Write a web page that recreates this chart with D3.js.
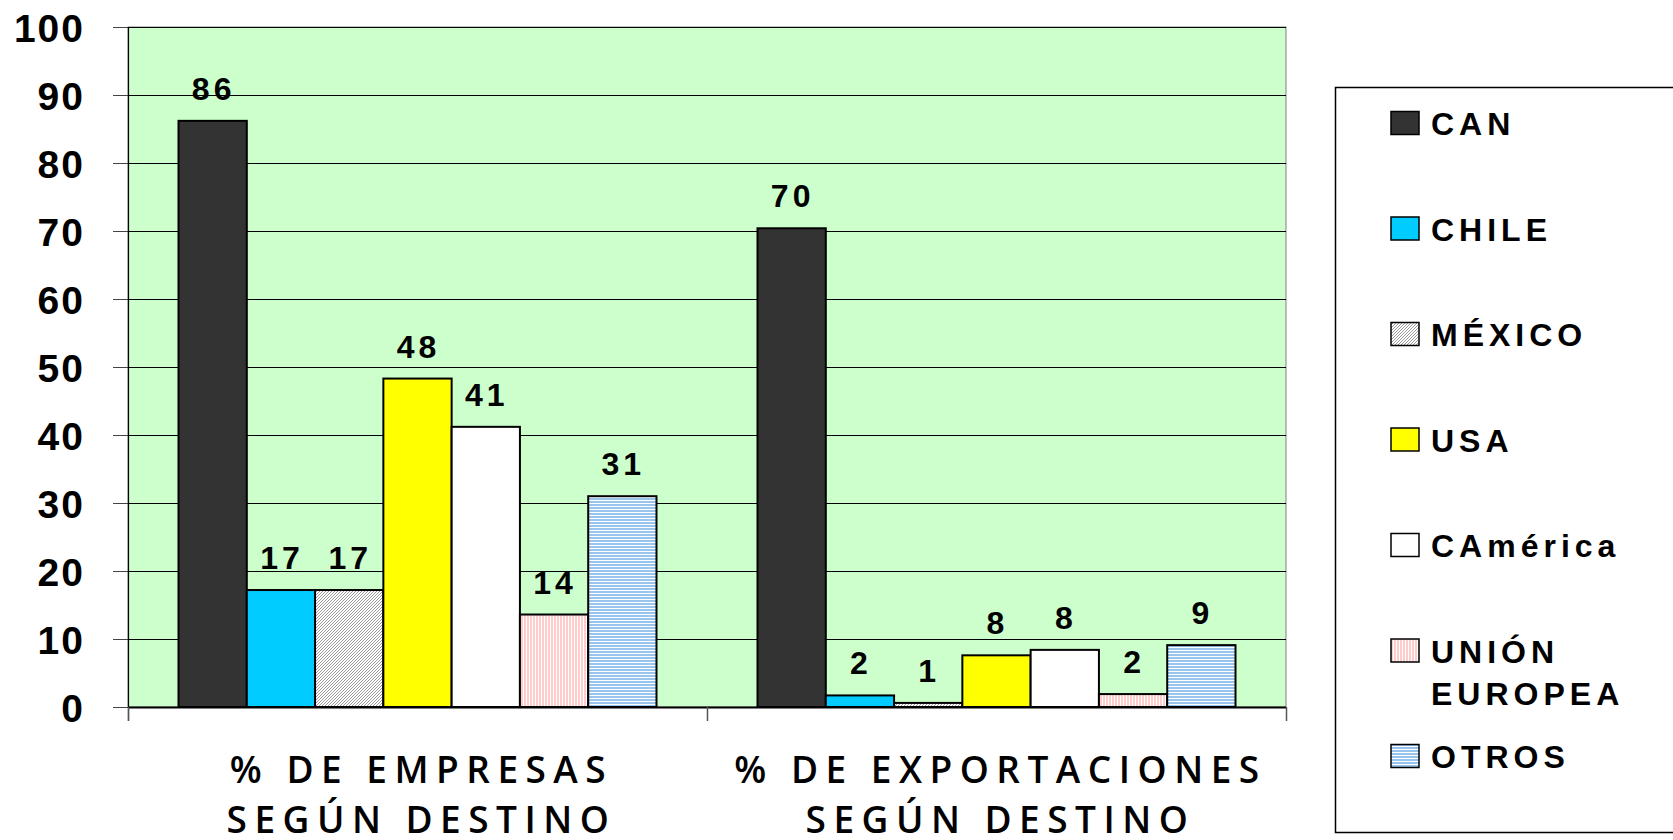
<!DOCTYPE html>
<html>
<head>
<meta charset="utf-8">
<script src="https://cdn.jsdelivr.net/npm/d3@7"></script>
<style>
  body { margin: 0; background: #fff; }
  svg { display: block; }
</style>
</head>
<body>
<div class="chart"></div>
<script>
const groups = ["% DE EMPRESAS|SEGÚN DESTINO", "% DE EXPORTACIONES|SEGÚN DESTINO"];
const series = ["CAN", "CHILE", "MÉXICO", "USA", "CAmérica", "UNIÓN EUROPEA", "OTROS"];
const empresas = [86.2, 17.2, 17.2, 48.3, 41.2, 13.6, 31.0];
const exportaciones = [70.4, 1.7, 0.6, 7.6, 8.4, 1.9, 9.1];
const yTicks = [0, 10, 20, 30, 40, 50, 60, 70, 80, 90, 100];

const width = 1673, height = 840;
const plot = { left: 128, right: 1286, top: 27, bottom: 707 };

const svg = d3.select(".chart").append("svg")
  .attr("width", width)
  .attr("height", height);

// patterns for the hatched series
const defs = svg.append("defs");

const pMex = defs.append("pattern").attr("id", "p-mex")
  .attr("patternUnits", "userSpaceOnUse").attr("width", 3).attr("height", 3);
pMex.append("rect").attr("width", 3).attr("height", 3).attr("fill", "#fff");
pMex.append("path").attr("d", "M-1,1 l2,-2 M0,3 l3,-3 M2,4 l2,-2")
  .attr("stroke", "#9a9a9a").attr("stroke-width", 1);

const pUe = defs.append("pattern").attr("id", "p-ue")
  .attr("patternUnits", "userSpaceOnUse").attr("width", 3).attr("height", 3);
pUe.append("rect").attr("width", 3).attr("height", 3).attr("fill", "#fff");
pUe.append("rect").attr("width", 2).attr("height", 3).attr("fill", "#ffcccc");

const pOtros = defs.append("pattern").attr("id", "p-otros")
  .attr("patternUnits", "userSpaceOnUse").attr("width", 3).attr("height", 3);
pOtros.append("rect").attr("width", 3).attr("height", 3).attr("fill", "#fff");
pOtros.append("rect").attr("width", 3).attr("height", 2).attr("fill", "#99c4ee");

const fills = ["#333333", "#00ccff", "url(#p-mex)", "#ffff00", "#ffffff", "url(#p-ue)", "url(#p-otros)"];
const color = d3.scaleOrdinal().domain(series).range(fills);

const y = d3.scaleLinear().domain([0, 100]).range([plot.bottom, plot.top]);
const x0 = d3.scaleBand().domain(groups).range([plot.left, plot.right]);
const x1 = d3.scaleBand().domain(series)
  .range([50.5, x0.bandwidth() - 50.5]);

// plot area
svg.append("rect")
  .attr("x", plot.left).attr("y", plot.top)
  .attr("width", plot.right - plot.left).attr("height", plot.bottom - plot.top)
  .attr("fill", "#ccffcc").attr("stroke", "#808080").attr("stroke-width", 1);

// gridlines
svg.append("g").selectAll("line")
  .data(yTicks.filter((d) => d > 0))
  .join("line")
  .attr("x1", plot.left).attr("x2", plot.right)
  .attr("y1", (d) => Math.round(y(d)) + 0.5).attr("y2", (d) => Math.round(y(d)) + 0.5)
  .attr("stroke", "#000").attr("stroke-width", 1);

// y axis
const yAxis = svg.append("g")
  .attr("transform", `translate(${plot.left},0)`)
  .call(d3.axisLeft(y).tickValues(yTicks).tickSize(15).tickPadding(30));
yAxis.select(".domain").remove();
yAxis.selectAll(".tick line").attr("stroke", "#444");
yAxis.selectAll(".tick text")
  .attr("font-family", "'Liberation Sans', Arial, sans-serif")
  .attr("font-weight", "bold")
  .attr("font-size", 39)
  .attr("letter-spacing", "2px")
  .attr("fill", "#000")
  .attr("dy", "0.36em")
  .attr("x", -43);

svg.append("line")
  .attr("x1", plot.left + 0.5).attr("x2", plot.left + 0.5)
  .attr("y1", plot.top).attr("y2", plot.bottom + 14)
  .attr("stroke", "#000").attr("stroke-width", 1.2);

// bars
const data = groups.map((g, gi) => ({
  group: g,
  values: series.map((s, si) => ({ s, v: gi === 0 ? empresas[si] : exportaciones[si] })),
}));

const grp = svg.append("g").selectAll("g")
  .data(data)
  .join("g")
  .attr("transform", (d) => `translate(${x0(d.group)},0)`);

grp.selectAll("rect")
  .data((d) => d.values)
  .join("rect")
  .attr("x", (d) => x1(d.s))
  .attr("y", (d) => y(d.v))
  .attr("width", x1.bandwidth())
  .attr("height", (d) => y(0) - y(d.v))
  .attr("fill", (d) => color(d.s))
  .attr("stroke", "#000")
  .attr("stroke-width", 2);

grp.selectAll("text")
  .data((d) => d.values)
  .join("text")
  .attr("x", (d) => x1(d.s) + x1.bandwidth() / 2 + 1)
  .attr("y", (d) => y(d.v) - 21)
  .attr("text-anchor", "middle")
  .attr("font-family", "'Liberation Sans', Arial, sans-serif")
  .attr("font-weight", "bold")
  .attr("font-size", 32)
  .attr("letter-spacing", "4px")
  .text((d) => d3.format(".0f")(d.v));

// x axis
svg.append("line")
  .attr("x1", plot.left).attr("x2", plot.right)
  .attr("y1", plot.bottom + 0.5).attr("y2", plot.bottom + 0.5)
  .attr("stroke", "#000").attr("stroke-width", 2);

svg.append("g").selectAll("line")
  .data([plot.left, x0(groups[1]), plot.right])
  .join("line")
  .attr("x1", (d) => d + 0.5).attr("x2", (d) => d + 0.5)
  .attr("y1", plot.bottom).attr("y2", plot.bottom + 14)
  .attr("stroke", "#555").attr("stroke-width", 1.5);

const catLabel = svg.append("g").selectAll("text")
  .data(groups)
  .join("text")
  .attr("y", 783)
  .attr("text-anchor", "middle")
  .attr("font-family", "'Open Sans', sans-serif")
  .attr("font-weight", 600)
  .attr("font-size", 37)
  .attr("letter-spacing", "7.5px")
  .attr("fill", "#000");
catLabel.selectAll("tspan")
  .data((d) => d.split("|").map((t) => ({ t, x: x0(d) + x0.bandwidth() / 2 + 4 })))
  .join("tspan")
  .attr("x", (d) => d.x)
  .attr("dy", (d, i) => (i === 0 ? 0 : 50))
  .text((d) => d.t);

// legend
svg.append("rect")
  .attr("x", 1335.5).attr("y", 87.5)
  .attr("width", 400).attr("height", 745)
  .attr("fill", "#fff").attr("stroke", "#000").attr("stroke-width", 1.5);

const legend = svg.append("g").selectAll("g")
  .data(series)
  .join("g")
  .attr("transform", (d, i) => `translate(1391,${123 + i * 105.5})`);

legend.append("rect")
  .attr("x", 0).attr("y", -11.5)
  .attr("width", 28).attr("height", 23)
  .attr("fill", (d) => color(d))
  .attr("stroke", "#000").attr("stroke-width", 1.5);

legend.append("text")
  .attr("x", 40)
  .attr("y", 12)
  .attr("font-family", "'Liberation Sans', Arial, sans-serif")
  .attr("font-weight", "bold")
  .attr("font-size", 32)
  .attr("letter-spacing", "5px")
  .attr("fill", "#000")
  .selectAll("tspan")
  .data((d) => d.split(" "))
  .join("tspan")
  .attr("x", 40)
  .attr("dy", (d, i) => (i === 0 ? 0 : 42))
  .text((d) => d);
</script>
</body>
</html>
